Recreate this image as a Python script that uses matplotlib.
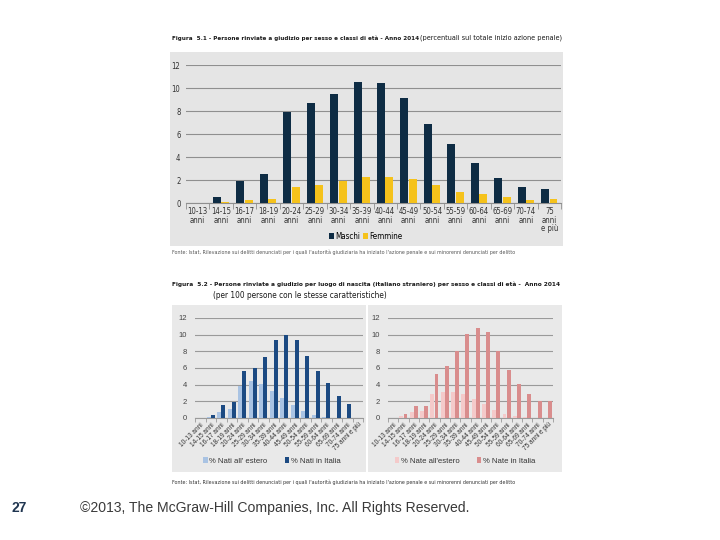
import matplotlib
matplotlib.use("Agg")
import matplotlib.pyplot as plt
from matplotlib.patches import Rectangle
import numpy as np

# ---------------- data ----------------
top_labels = ["10-13\nanni", "14-15\nanni", "16-17\nanni", "18-19\nanni", "20-24\nanni",
              "25-29\nanni", "30-34\nanni", "35-39\nanni", "40-44\nanni", "45-49\nanni",
              "50-54\nanni", "55-59\nanni", "60-64\nanni", "65-69\nanni", "70-74\nanni",
              "75\nanni\ne più"]
maschi = [0, 0.5, 1.9, 2.5, 7.9, 8.7, 9.5, 10.5, 10.4, 9.1, 6.9, 5.1, 3.5, 2.2, 1.4, 1.2]
femmine = [0, 0.1, 0.3, 0.35, 1.4, 1.6, 1.9, 2.3, 2.3, 2.1, 1.6, 1.0, 0.75, 0.5, 0.3, 0.35]

bottom_labels = ["10-13 anni", "14-15 anni", "16-17 anni", "18-19 anni", "20-24 anni",
                 "25-29 anni", "30-34 anni", "35-39 anni", "40-44 anni", "45-49 anni",
                 "50-54 anni", "55-59 anni", "60-64 anni", "65-69 anni", "70-74 anni",
                 "75 anni e più"]
nati_estero = [0, 0.1, 0.7, 1.1, 3.8, 4.5, 4.1, 3.3, 2.4, 1.6, 0.8, 0.4, 0.1, 0, 0, 0]
nati_italia = [0, 0.4, 1.6, 1.9, 5.7, 6.0, 7.3, 9.4, 10.0, 9.4, 7.5, 5.7, 4.2, 2.6, 1.7, 0]
nate_estero = [0, 0.2, 0.7, 0.9, 2.9, 3.1, 3.1, 2.9, 2.3, 1.7, 1.0, 0.5, 0.2, 0.1, 0, 0]
nate_italia = [0, 0.5, 1.4, 1.5, 5.3, 6.2, 8.1, 10.1, 10.8, 10.3, 8.0, 5.8, 4.1, 2.9, 2.0, 2.0]

yticks = [0, 2, 4, 6, 8, 10, 12]

# ---------------- helpers ----------------
W, H = 720, 540
fig = plt.figure(figsize=(7.2, 5.4), dpi=100)
fig.patch.set_facecolor("white")
NARROW = ["Liberation Sans Narrow", "DejaVu Sans Condensed", "DejaVu Sans"]


def fx(x):
    return x / W


def fy(y):
    return 1 - y / H


def gray_box(x0, y0, x1, y1, color):
    fig.add_artist(Rectangle((fx(x0), fy(y1)), (x1 - x0) / W, (y1 - y0) / H,
                             transform=fig.transFigure, color=color, zorder=-5, lw=0))


renderer = fig.canvas.get_renderer()


def fit_text(x0, x1, y, s, fs, **kw):
    t = fig.text(fx(x0), fy(y), s, fontsize=fs, va="center", ha="left", **kw)
    w = t.get_window_extent(renderer).width
    t.set_fontsize(fs * (x1 - x0) / w)
    return t


def axes_px(x0, x1, ytop, ybot):
    return fig.add_axes([fx(x0), fy(ybot), (x1 - x0) / W, (ybot - ytop) / H])


# ---------------- top chart ----------------
gray_box(170, 52, 563, 246, "#e5e5e5")
ax = axes_px(186, 561, 65, 203)
ax.set_facecolor("none")
x = np.arange(len(top_labels))
bw = 0.34
b1 = ax.bar(x - 0.18, maschi, bw, color="#0e2c44", zorder=3, label="Maschi")
b2 = ax.bar(x + 0.18, femmine, bw, color="#f5c21b", zorder=3, label="Femmine")
ax.set_xlim(-0.5, len(top_labels) - 0.5)
ax.set_ylim(0, 12)
ax.set_yticks(yticks)
ax.yaxis.grid(True, color="#8f8f8f", lw=0.8, zorder=0)
ax.set_axisbelow(True)
for s in ["top", "right", "left"]:
    ax.spines[s].set_visible(False)
ax.spines["bottom"].set_color("#8f8f8f")
ax.tick_params(axis="y", length=0, labelsize=5.5, pad=4, labelcolor="#333333")
ax.set_xticks(x)
ax.set_xticklabels(top_labels, fontsize=5.6, color="#333333", linespacing=0.95,
                   family=NARROW, stretch="condensed")
ax.tick_params(axis="x", length=0, pad=3)
ax.set_xticks(np.arange(-0.5, len(top_labels), 1), minor=True)
ax.tick_params(axis="x", which="minor", length=4, color="#8f8f8f", direction="out")
for lab in ax.get_yticklabels():
    lab.set_family(NARROW)
    lab.set_stretch("condensed")
fig.legend(handles=[b1, b2], loc="center", bbox_to_anchor=(fx(366), fy(236)), ncol=2,
           frameon=False, handlelength=0.6, handleheight=0.8,
           handletextpad=0.15, columnspacing=0.4,
           prop={"family": NARROW, "size": 5.8, "stretch": "condensed"})

fit_text(172, 418, 38,
         "Figura  5.1 - Persone rinviate a giudizio per sesso e classi di età - Anno 2014",
         7, weight="bold", family=NARROW, stretch="condensed", color="#1a1a1a")
fit_text(420, 561, 38, "(percentuali sul totale inizio azione penale)", 7,
         family=NARROW, stretch="condensed", color="#1a1a1a")
fit_text(172, 523, 252,
         "Fonte: Istat, Rilevazione sui delitti denunciati per i quali l'autorità giudiziaria ha iniziato "
         "l'azione penale e sui minorenni denunciati per delitto", 5, family=NARROW,
         stretch="condensed", color="#555555")

# ---------------- bottom titles ----------------
fit_text(172, 561, 284,
         "Figura  5.2 - Persone rinviate a giudizio per luogo di nascita (italiano straniero) "
         "per sesso e classi di età -  Anno 2014", 7, weight="bold", family=NARROW,
         stretch="condensed", color="#1a1a1a")
fit_text(213, 388, 296, "(per 100 persone con le stesse caratteristiche)", 7,
         family=NARROW, stretch="condensed", color="#1a1a1a")
fit_text(172, 523, 482,
         "Fonte: Istat, Rilevazione sui delitti denunciati per i quali l'autorità giudiziaria ha iniziato "
         "l'azione penale e sui minorenni denunciati per delitto", 5, family=NARROW,
         stretch="condensed", color="#333333")


def bottom_chart(x0, x1, light, dark, c_light, c_dark, lab_light, lab_dark, leg_x):
    a = axes_px(x0, x1, 318, 418)
    a.set_facecolor("none")
    xx = np.arange(len(bottom_labels))
    h1 = a.bar(xx - 0.2, light, 0.38, color=c_light, zorder=3, label=lab_light)
    h2 = a.bar(xx + 0.2, dark, 0.38, color=c_dark, zorder=3, label=lab_dark)
    a.set_xlim(-0.5, len(bottom_labels) - 0.5)
    a.set_ylim(0, 12)
    a.set_yticks(yticks)
    a.yaxis.grid(True, color="#9a9a9a", lw=0.8, zorder=0)
    a.set_axisbelow(True)
    for s in ["top", "right", "left"]:
        a.spines[s].set_visible(False)
    a.spines["bottom"].set_color("#9a9a9a")
    a.tick_params(axis="y", length=0, labelsize=5.5, pad=6, labelcolor="#444444")
    for lab in a.get_yticklabels():
        lab.set_family("Liberation Sans")
    a.set_xticks(xx)
    a.set_xticklabels(bottom_labels, rotation=45, ha="right", rotation_mode="anchor",
                      fontsize=4.7, color="#333333", family="Liberation Sans")
    a.tick_params(axis="x", length=0, pad=2.5)
    a.set_xticks(np.arange(-0.5, len(bottom_labels), 1), minor=True)
    a.tick_params(axis="x", which="minor", length=3, color="#9a9a9a")
    fig.legend(handles=[h1, h2], loc="center", bbox_to_anchor=(fx(leg_x), fy(461)), ncol=2,
               frameon=False, handlelength=0.6, handleheight=0.8, handletextpad=0.2,
               columnspacing=2.2, prop={"size": 5.6, "family": "Liberation Sans"},
               labelcolor="#333333")
    return a


gray_box(172, 305, 366, 472, "#e9e9e9")
gray_box(368, 305, 562, 472, "#e9e9e9")
bottom_chart(195, 363, nati_estero, nati_italia, "#a9c3e3", "#1c4a82",
             "% Nati all' estero", "% Nati in Italia", 272)
bottom_chart(388, 553, nate_estero, nate_italia, "#f4caca", "#d98d8d",
             "% Nate all'estero", "% Nate in Italia", 465)

# ---------------- footer ----------------
fig.text(fx(12), fy(508), "27", fontsize=10, weight="bold", color="#1f3550",
         va="center", ha="left", family="Liberation Sans")
fit_text(80, 470, 508, "©2013, The McGraw-Hill Companies, Inc. All Rights Reserved.", 10,
         family="Liberation Sans", color="#3a3a3a")

fig.savefig("out.png", dpi=100)
